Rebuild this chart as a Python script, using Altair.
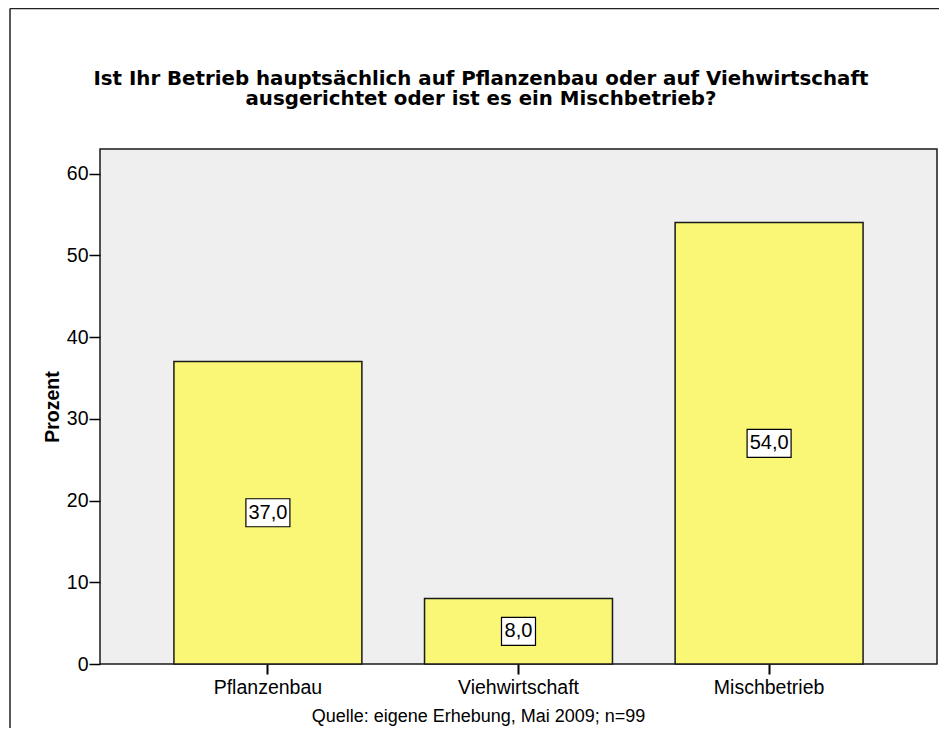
import altair as alt
import pandas as pd

categories = ["Pflanzenbau", "Viehwirtschaft", "Mischbetrieb"]
percent = [37.0, 8.0, 54.0]
y_ticks = [0, 10, 20, 30, 40, 50, 60]

title_lines = [
    "Ist Ihr Betrieb hauptsächlich auf Pflanzenbau oder auf Viehwirtschaft",
    "ausgerichtet oder ist es ein Mischbetrieb?",
]
footer = "Quelle: eigene Erhebung,  Mai 2009; n=99"

df = pd.DataFrame({
    "cat": categories,
    "pct": percent,
    "label": [f"{v:.1f}".replace(".", ",") for v in percent],
})

FONT = "Liberation Sans"

x_enc = alt.X(
    "cat:N",
    sort=categories,
    scale=alt.Scale(paddingInner=0.25, paddingOuter=0.295),
    axis=alt.Axis(
        title=footer,
        labelAngle=0,
        labelFont=FONT,
        labelFontSize=19.5,
        labelColor="black",
        labelPadding=4,
        tickSize=10,
        tickWidth=2,
        tickColor="black",
        domain=False,
        titleFont=FONT,
        titleFontSize=18,
        titleFontWeight="normal",
        titleColor="black",
        titleX=378,
        titleY=57,
        titleAlign="center",
        titleBaseline="alphabetic",
        titleAnchor="start",
    ),
)

y_scale = alt.Scale(domain=[0, 63], nice=False)

bars = alt.Chart(df).mark_bar(
    fill="#FAF776", stroke="#1a1a1a", strokeWidth=1.5
).encode(
    x=x_enc,
    y=alt.Y(
        "pct:Q",
        scale=y_scale,
        axis=alt.Axis(
            title="Prozent",
            values=y_ticks,
            grid=False,
            domain=False,
            labelFont=FONT,
            labelFontSize=19.5,
            labelColor="black",
            labelPadding=1,
            tickSize=11,
            tickWidth=1.5,
            tickColor="black",
            titleFont=FONT,
            titleFontSize=19.5,
            titleFontWeight="bold",
            titleColor="black",
            titleAngle=-90,
            titleX=-42,
            titleY=257.5,
            titleAlign="center",
            titleBaseline="alphabetic",
        ),
    ),
)

half = "datum.pct / 2"
boxes = alt.Chart(df).transform_calculate(
    half=half,
    w="5 * length(datum.label) + 2",
).transform_calculate(
    box="'M-' + datum.w + ',-14H' + datum.w + 'V14H-' + datum.w + 'Z'"
).mark_point(
    filled=True, fill="white", stroke="black", strokeWidth=1.2, opacity=1, size=4
).encode(
    x=alt.X("cat:N", sort=categories),
    y=alt.Y("half:Q", scale=y_scale),
    shape=alt.Shape("box:N", scale=None, legend=None),
)

texts = alt.Chart(df).transform_calculate(half=half).mark_text(
    font=FONT, fontSize=20, color="black", baseline="middle", align="center"
).encode(
    x=alt.X("cat:N", sort=categories),
    y=alt.Y("half:Q", scale=y_scale),
    text="label:N",
)

one = pd.DataFrame({"k": [0]})
frame_top = alt.Chart(one).mark_rule(stroke="#222222", strokeWidth=1.5).encode(
    x=alt.value(-90),
    x2=alt.value(2000),
    y=alt.value(-140.5),
)
frame_left = alt.Chart(one).mark_rule(stroke="#222222", strokeWidth=1.5).encode(
    x=alt.value(-90),
    y=alt.value(-140.5),
    y2=alt.value(650),
)

chart = alt.layer(frame_top, frame_left, bars, boxes, texts).properties(
    width=837,
    height=515,
    padding={"left": 92, "top": 141, "right": 2, "bottom": 64},
    autosize=alt.AutoSizeParams(type="none"),
    title=alt.TitleParams(
        text=title_lines,
        anchor="middle",
        frame="group",
        dx=-37.5,
        offset=-101,
        font="DejaVu Sans",
        fontSize=19.8,
        fontWeight="bold",
        color="black",
        lineHeight=20,
    ),
).configure_view(
    fill="#EFEFEF", stroke="#1a1a1a", strokeWidth=1.5
)

chart.save("out.html", embed_options={"renderer": "svg", "actions": False})
